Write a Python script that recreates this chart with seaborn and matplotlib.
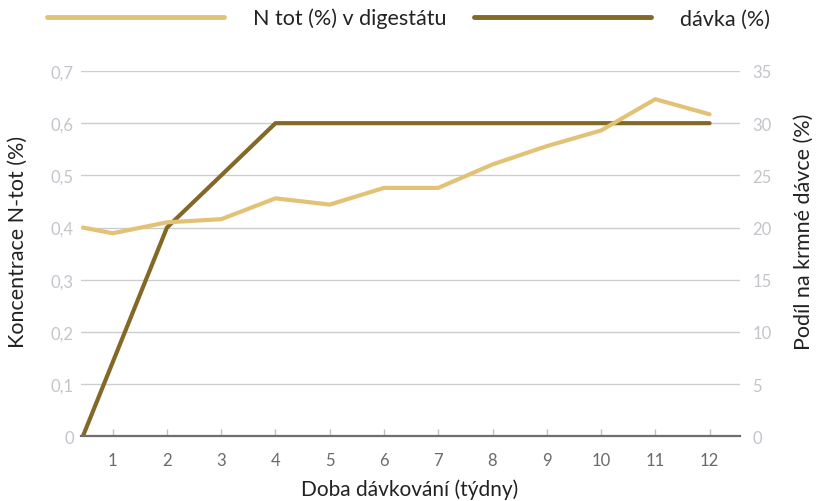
import matplotlib
matplotlib.use("Agg")
import matplotlib.pyplot as plt
import seaborn as sns
import pandas as pd
from matplotlib.lines import Line2D

# Weeks of dosing (first point is the start, before week 1)
tydny_n = [0.45, 1, 2, 3, 4, 5, 6, 7, 8, 9, 10, 11, 12]
n_tot = [0.400, 0.389, 0.410, 0.416, 0.456, 0.444, 0.476, 0.476, 0.521, 0.556, 0.586, 0.646, 0.617]

tydny_d = [0.45, 2, 3, 4, 5, 6, 7, 8, 9, 10, 11, 12]
davka = [0, 20, 25, 30, 30, 30, 30, 30, 30, 30, 30, 30]

x_ticks = [1, 2, 3, 4, 5, 6, 7, 8, 9, 10, 11, 12]
left_ticks = [0, 0.1, 0.2, 0.3, 0.4, 0.5, 0.6, 0.7]
left_labels = ["0", "0,1", "0,2", "0,3", "0,4", "0,5", "0,6", "0,7"]
right_ticks = [0, 5, 10, 15, 20, 25, 30, 35]

c_light = "#E2C276"
c_dark = "#846828"
grid_c = "#CDCDD0"
ylab_c = "#C4C4CC"

sns.set_theme(style="white")
plt.rcParams["font.family"] = ["Lato", "DejaVu Sans"]

df_n = pd.DataFrame({"tyden": tydny_n, "hodnota": n_tot})
df_d = pd.DataFrame({"tyden": tydny_d, "hodnota": davka})

fig = plt.figure(figsize=(8.21, 5.02), dpi=100)
ax = fig.add_axes([0.0983, 0.1289, 0.8030, 0.7277])
ax2 = ax.twinx()

sns.lineplot(data=df_d, x="tyden", y="hodnota", ax=ax2, color=c_dark,
             linewidth=3, legend=False)
sns.lineplot(data=df_n, x="tyden", y="hodnota", ax=ax, color=c_light,
             linewidth=3, legend=False)

# left axis (with N tot) drawn above the right one
ax.set_zorder(ax2.get_zorder() + 1)
ax.patch.set_visible(False)

ax.set_xlim(0.41, 12.56)
ax.set_ylim(0, 0.7)
ax2.set_ylim(0, 35)

for a in (ax, ax2):
    for s in a.spines.values():
        s.set_visible(False)

ax2.set_yticks(right_ticks)
ax2.set_yticklabels([str(t) for t in right_ticks])
ax2.yaxis.grid(True, color=grid_c, linewidth=1)
ax2.set_axisbelow(True)
ax2.tick_params(axis="y", length=0, pad=9, labelsize=12, labelcolor=ylab_c)

ax.set_yticks(left_ticks)
ax.set_yticklabels(left_labels)
ax.tick_params(axis="y", length=0, pad=5, labelsize=12, labelcolor=ylab_c)

ax.spines["bottom"].set_visible(True)
ax.spines["bottom"].set_color("#6E6E6E")
ax.spines["bottom"].set_linewidth(1.6)
ax.set_xticks(x_ticks)
ax.set_xticklabels([str(t) for t in x_ticks])
ax.tick_params(axis="x", direction="in", length=5, width=1, color="#C0C0C0",
               pad=11, labelsize=12, labelcolor="#6A6A6A", bottom=True)

ax.set_xlabel("Doba dávkování (týdny)", fontsize=15, color="#222222", va="center")
ax.xaxis.set_label_coords(0.4995, -0.144)
ax.set_ylabel("Koncentrace N-tot (%)", fontsize=15.5, color="#222222", va="center")
ax.yaxis.set_label_coords(-0.0951, 0.535)
ax2.set_ylabel("Podíl na krmné dávce (%)", fontsize=15.5, color="#222222", va="center")
ax2.yaxis.set_label_coords(1.097, 0.562)

handles = [Line2D([], [], color=c_light, linewidth=3.5),
           Line2D([], [], color=c_dark, linewidth=3.5)]
fig.legend(handles, ["N tot (%) v digestátu", "dávka (%)"], ncol=2,
           loc="center", bbox_to_anchor=(0.4976, 0.962), frameon=False,
           fontsize=15.5, handlelength=8.2, handletextpad=1.35,
           columnspacing=1.3, labelcolor="#222222")

fig.savefig("out.png", dpi=100)
